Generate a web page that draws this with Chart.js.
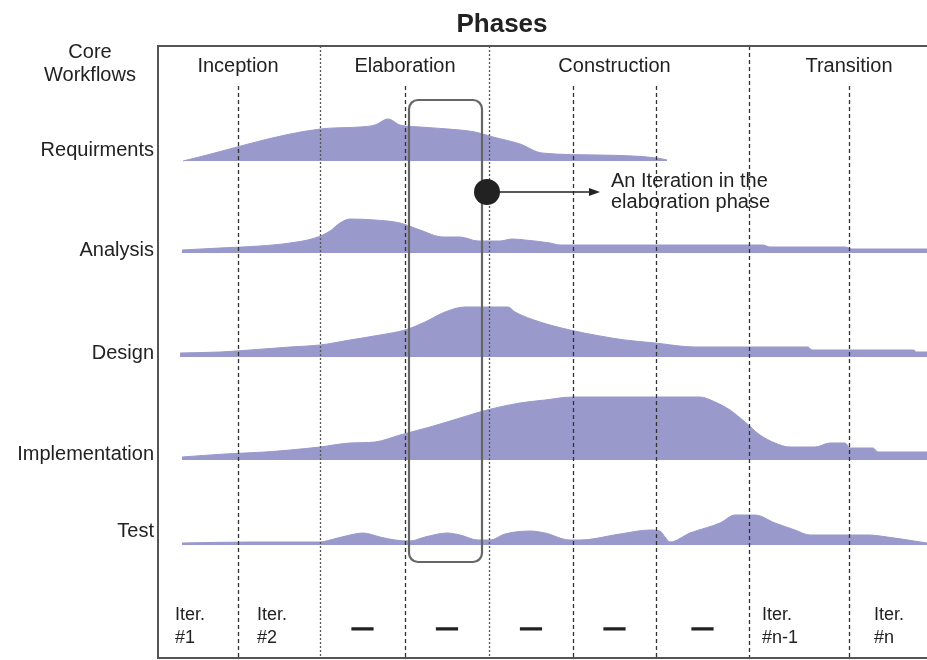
<!DOCTYPE html>
<html>
<head>
<meta charset="utf-8">
<script src="https://cdn.jsdelivr.net/npm/chart.js@4/dist/chart.umd.min.js"></script>
<style>
html,body{margin:0;padding:0;background:#fff;}
canvas{display:block;}
</style>
</head>
<body>
<canvas id="c" width="927" height="660"></canvas>
<script>
// ---- data (time in project days, effort in relative units) ----
const phases = ["Inception", "Elaboration", "Construction", "Transition"];
const phaseEnds = [162, 331, 591];
const iterationEnds = [80, 162, 247, 331, 415, 498, 591, 691];
const projectEnd = 769;
const workflows = ["Requirments", "Analysis", "Design", "Implementation", "Test"];
const iterLabels = [["Iter.", "#1"], ["Iter.", "#2"], ["—"], ["—"], ["—"], ["—"], ["—"], ["Iter.", "#n-1"], ["Iter.", "#n"]];

const reqDays   = [25, 162, 202, 217, 230, 242, 262, 302, 317, 335, 362, 384, 440, 499, 509];
const reqEffort = [0, 32, 34, 36, 42, 36, 34, 31, 29, 24, 17, 8, 6, 3, 1];

const anaDays   = [24, 62, 102, 132, 157, 172, 182, 192, 217, 242, 262, 285, 302, 320, 342, 354, 367, 392, 402, 605, 612, 687, 694, 769];
const anaEffort = [3, 5, 7, 10, 15, 22, 30, 34, 33, 30, 23, 16, 16, 12, 12, 14, 13, 10, 8, 8, 6, 6, 4, 4];

const desDays   = [22, 62, 92, 132, 162, 192, 222, 247, 267, 287, 307, 350, 357, 382, 412, 442, 467, 497, 537, 650, 654, 756, 758, 769];
const desEffort = [4, 5, 7, 10, 12, 17, 22, 27, 35, 45, 50, 50, 45, 35, 27, 21, 17, 14, 10, 10, 7, 7, 5, 5];

const impDays   = [24, 67, 107, 132, 162, 192, 217, 242, 272, 302, 329, 362, 387, 415, 542, 557, 572, 587, 602, 617, 632, 657, 672, 687, 692, 715, 720, 769];
const impEffort = [3, 6, 8, 10, 13, 17, 18, 25, 33, 42, 50, 57, 60, 63, 63, 58, 50, 38, 25, 17, 13, 13, 17, 17, 12, 12, 8, 8];

const tstDays   = [24, 92, 162, 172, 192, 205, 222, 237, 252, 267, 289, 302, 320, 332, 347, 372, 387, 412, 422, 462, 492, 502, 507, 512, 532, 562, 577, 597, 617, 637, 652, 712, 722, 769];
const tstEffort = [2, 3, 3, 5, 10, 12, 8, 5, 4, 8, 12, 10, 5, 5, 11, 14, 12, 5, 5, 11, 15, 14, 8, 3, 12, 22, 30, 30, 22, 15, 10, 10, 9, 2];

// ---- layout (row base levels on the vertical scale) ----
const rowBase = [497, 405, 301, 198, 113];
const rowLabelLevel = [508, 408, 304.5, 204, 127];
const series = [[reqDays, reqEffort], [anaDays, anaEffort], [desDays, desEffort], [impDays, impEffort], [tstDays, tstEffort]];

const fillColor = "rgb(153,153,204)";
const FONT = '"Liberation Sans", Arial, sans-serif';

const datasets = series.map((s, i) => ({
  label: workflows[i],
  data: s[0].map((d, k) => ({ x: d, y: rowBase[i] + s[1][k] })),
  fill: { value: rowBase[i] },
  backgroundColor: fillColor,
  borderColor: fillColor,
  borderWidth: 1,
  pointRadius: 0,
  cubicInterpolationMode: "monotone"
}));

const decor = {
  id: "decor",
  afterDatasetsDraw(chart) {
    const { ctx, chartArea: a, scales: { x, y } } = chart;
    ctx.save();
    // dashed iteration / phase lines
    ctx.lineWidth = 1.3;
    iterationEnds.forEach(d => {
      const px = Math.round(x.getPixelForValue(d)) + 0.5;
      const isPhase = phaseEnds.includes(d);
      const top = isPhase ? a.top : a.top + 40;
      if (isPhase && d !== phaseEnds[2]) { ctx.setLineDash([2, 2]); ctx.strokeStyle = "#555"; }
      else { ctx.setLineDash([4, 3]); ctx.strokeStyle = "#333"; }
      ctx.beginPath(); ctx.moveTo(px, top); ctx.lineTo(px, a.bottom); ctx.stroke();
    });
    ctx.setLineDash([]);
    // frame
    ctx.strokeStyle = "#555";
    ctx.lineWidth = 2;
    ctx.beginPath();
    ctx.moveTo(a.right, a.top); ctx.lineTo(a.left, a.top); ctx.lineTo(a.left, a.bottom); ctx.lineTo(a.right, a.bottom);
    ctx.stroke();

    // highlighted iteration box
    const bx0 = x.getPixelForValue(iterationEnds[2]) + 4;
    const bx1 = x.getPixelForValue(iterationEnds[3]) - 7;
    const by0 = y.getPixelForValue(558), by1 = y.getPixelForValue(96);
    ctx.strokeStyle = "#666";
    ctx.lineWidth = 2.2;
    ctx.beginPath();
    ctx.roundRect(bx0, by0, bx1 - bx0, by1 - by0, 9);
    ctx.stroke();

    // dot + arrow
    const dx = x.getPixelForValue(329), dy = y.getPixelForValue(466);
    const ax = x.getPixelForValue(442);
    ctx.fillStyle = "#222";
    ctx.beginPath(); ctx.arc(dx, dy, 13, 0, Math.PI * 2); ctx.fill();
    ctx.strokeStyle = "#222"; ctx.lineWidth = 1.5;
    ctx.beginPath(); ctx.moveTo(dx, dy); ctx.lineTo(ax - 8, dy); ctx.stroke();
    ctx.beginPath(); ctx.moveTo(ax, dy); ctx.lineTo(ax - 11, dy - 4); ctx.lineTo(ax - 11, dy + 4); ctx.closePath(); ctx.fill();

    ctx.fillStyle = "#222";
    ctx.textBaseline = "alphabetic";
    ctx.font = "20px " + FONT;
    ctx.textAlign = "left";
    const tx = x.getPixelForValue(453);
    ctx.fillText("An Iteration in the", tx, y.getPixelForValue(471));
    ctx.fillText("elaboration phase", tx, y.getPixelForValue(450));

    // title
    ctx.textAlign = "center";
    ctx.font = "bold 26px " + FONT;
    ctx.fillText("Phases", 502, 32);

    // Core Workflows
    ctx.font = "20px " + FONT;
    ctx.fillText("Core", 90, 58);
    ctx.fillText("Workflows", 90, 81);

    // phase labels
    phases.forEach((p, i) => {
      let cx;
      if (i === 0) cx = x.getPixelForValue(iterationEnds[0]);
      else if (i === 1) cx = x.getPixelForValue(iterationEnds[2]);
      else if (i === 2) cx = (x.getPixelForValue(iterationEnds[4]) + x.getPixelForValue(iterationEnds[5])) / 2;
      else cx = x.getPixelForValue(iterationEnds[7]);
      ctx.fillText(p, cx, 72);
    });

    // workflow labels
    ctx.textAlign = "right";
    ctx.textBaseline = "middle";
    workflows.forEach((w, i) => {
      ctx.fillText(w, a.left - 4, y.getPixelForValue(rowLabelLevel[i]));
    });

    // iteration labels
    ctx.textBaseline = "alphabetic";
    const edges = [0, ...iterationEnds, projectEnd];
    iterLabels.forEach((lab, i) => {
      const l = x.getPixelForValue(edges[i]), r = x.getPixelForValue(edges[i + 1]);
      if (lab.length === 1) {
        ctx.textAlign = "center";
        ctx.font = "bold 21px " + FONT;
        ctx.lineWidth = 1.2;
        ctx.strokeStyle = "#222";
        ctx.fillText(lab[0], (l + r) / 2, 634);
        ctx.strokeText(lab[0], (l + r) / 2, 634);
      } else {
        ctx.textAlign = "left";
        ctx.font = "18px " + FONT;
        const off = i === 0 ? 17 : (i === 1 ? 19 : (i === 7 ? 13 : 25));
        ctx.fillText(lab[0], l + off, 620);
        ctx.fillText(lab[1], l + off, 643);
      }
    });
    ctx.restore();
  }
};

new Chart(document.getElementById("c"), {
  type: "line",
  data: { datasets },
  options: {
    responsive: false,
    animation: false,
    layout: { padding: { left: 158, right: 0, top: 46, bottom: 2 } },
    plugins: { legend: { display: false }, tooltip: { enabled: false }, title: { display: false } },
    scales: {
      x: { type: "linear", min: 0, max: projectEnd, display: false },
      y: { type: "linear", min: 0, max: 612, display: false }
    }
  },
  plugins: [decor]
});
</script>
</body>
</html>
